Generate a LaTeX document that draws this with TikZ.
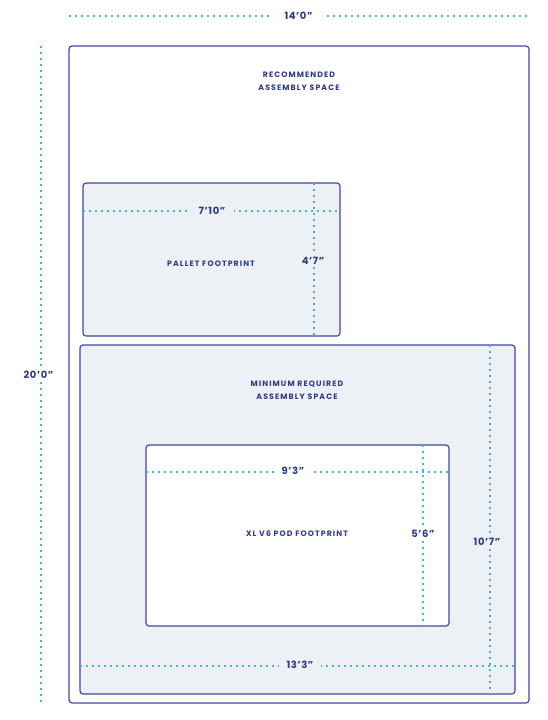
\documentclass[tikz,border=0pt]{standalone}
\usepackage{fontspec}
\setmainfont{Poppins}
\newfontfamily\lblfont[LetterSpace=14]{Poppins}
\newfontfamily\dimfont[LetterSpace=6]{Poppins}
\definecolor{rectline}{HTML}{4347A6}
\definecolor{txt}{HTML}{2E3A8C}
\definecolor{dots}{HTML}{3DB6E0}
\definecolor{fillbg}{HTML}{EDF0F5}
\tikzset{
  area/.style={draw=rectline, line width=1.2pt, rounded corners=3pt, inner sep=0pt, outer sep=0pt},
  dimline/.style={draw=dots, line width=1.7pt, dash pattern=on 1.7pt off 4.3pt},
  dimlabel/.style={text=txt, font=\dimfont\fontsize{10}{12}\selectfont\bfseries, inner ysep=2pt},
  arealabel/.style={text=txt, font=\lblfont\fontsize{7.8}{13}\selectfont\bfseries, align=center, inner sep=0pt}
}
\begin{document}
\begin{tikzpicture}[x=1pt,y=-1pt]
\useasboundingbox (0,0) rectangle (548,720);
% areas
\node[area, fill=white, minimum width=460pt, minimum height=657pt] (outer) at (299,374.5) {};
\node[area, fill=fillbg, minimum width=257pt, minimum height=153pt] (pallet) at (211.5,259.5) {};
\node[area, fill=fillbg, minimum width=435pt, minimum height=349pt] (minspace) at (297.5,519.5) {};
\node[area, fill=white, minimum width=303pt, minimum height=181pt] (pod) at (297.5,535.5) {};
% area labels
\node[arealabel] (outerlbl) at (299,81) {RECOMMENDED\\ASSEMBLY SPACE};
\node[arealabel] (palletlbl) at (211,263.5) {PALLET FOOTPRINT};
\node[arealabel] (minlbl) at (297,390.5) {MINIMUM REQUIRED\\ASSEMBLY SPACE};
\node[arealabel] (podlbl) at (297,533.5) {XL V6 POD FOOTPRINT};
% dimension end points
\coordinate (topL) at (69,16);
\coordinate (topR) at (529,16);
\coordinate (leftT) at (41,46);
\coordinate (leftB) at (41,703);
\coordinate (palHL) at (83,211);
\coordinate (palHR) at (340,211);
\coordinate (palVT) at (314,183);
\coordinate (palVB) at (314,336);
\coordinate (minHL) at (80,666);
\coordinate (minHR) at (515,666);
\coordinate (minVT) at (490,345);
\coordinate (minVB) at (490,694);
\coordinate (podHL) at (146,472);
\coordinate (podHR) at (449,472);
\coordinate (podVT) at (423,445);
\coordinate (podVB) at (423,626);
% dimension lines
\draw[dimline] (topL) -- (topR);
\node[dimlabel, fill=white, inner xsep=13pt] (dtop) at (298.5,16) {14’0”};
\draw[dimline] (leftT) -- (leftB);
\node[dimlabel, fill=white, inner xsep=2pt] (dleft) at (38.5,375) {20’0”};
\draw[dimline] (palHL) -- (palHR);
\draw[dimline] (palVT) -- (palVB);
\node[dimlabel, fill=fillbg, inner xsep=9pt] (dpalh) at (212,211) {7’10”};
\node[dimlabel, fill=fillbg, inner xsep=1pt] (dpalv) at (313,261) {4’7”};
\draw[dimline] (minVT) -- (minVB);
\draw[dimline] (minHL) -- (minHR);
\node[dimlabel, fill=fillbg, inner xsep=8pt] (dminh) at (300,665) {13’3”};
\node[dimlabel, fill=fillbg, inner xsep=1pt] (dminv) at (487,542) {10’7”};
\draw[dimline] (podHL) -- (podHR);
\draw[dimline] (podVT) -- (podVB);
\node[dimlabel, fill=white, inner xsep=7pt] (dpodh) at (293,471) {9’3”};
\node[dimlabel, fill=white, inner xsep=1pt] (dpodv) at (423,534) {5’6”};
\end{tikzpicture}
\end{document}
